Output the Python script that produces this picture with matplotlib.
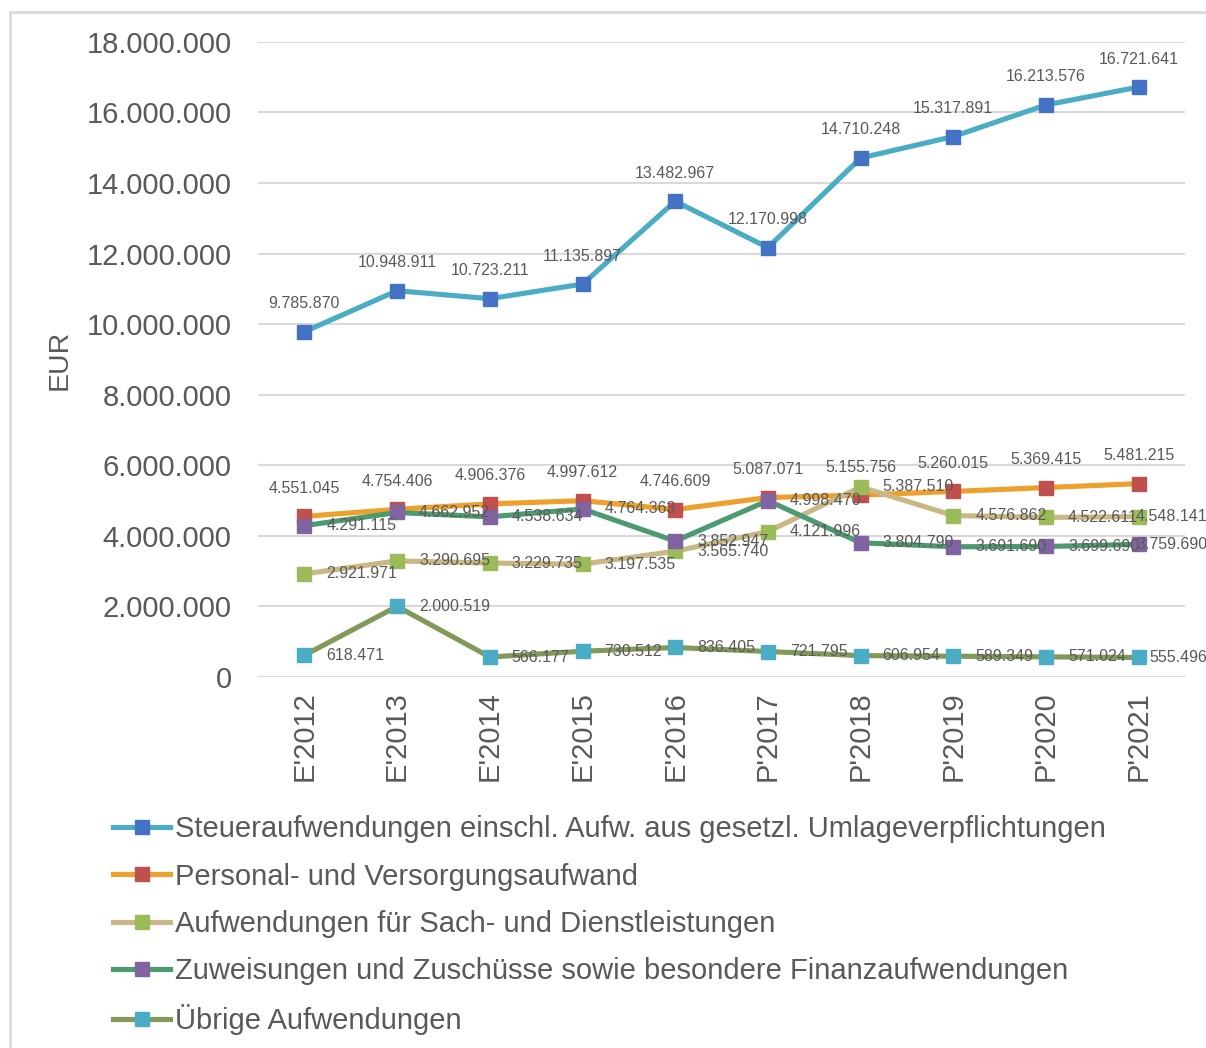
import matplotlib.pyplot as plt
from matplotlib.patches import Rectangle
from matplotlib.ticker import FuncFormatter

plt.rcParams['font.family'] = ['Liberation Sans', 'DejaVu Sans']

jahre = ["E'2012", "E'2013", "E'2014", "E'2015", "E'2016",
         "P'2017", "P'2018", "P'2019", "P'2020", "P'2021"]

steuer = [9785870, 10948911, 10723211, 11135897, 13482967,
          12170998, 14710248, 15317891, 16213576, 16721641]
personal = [4551045, 4754406, 4906376, 4997612, 4746609,
            5087071, 5155756, 5260015, 5369415, 5481215]
sach = [2921971, 3290695, 3229735, 3197535, 3565740,
        4121996, 5387510, 4576862, 4522611, 4548141]
zuweisungen = [4291115, 4662952, 4538634, 4764363, 3852947,
               4998470, 3804790, 3691690, 3699690, 3759690]
uebrige = [618471, 2000519, 566177, 730512, 836405,
           721795, 606954, 589349, 571024, 555496]

namen = ["Steueraufwendungen einschl. Aufw. aus gesetzl. Umlageverpflichtungen",
         "Personal- und Versorgungsaufwand",
         "Aufwendungen für Sach- und Dienstleistungen",
         "Zuweisungen und Zuschüsse sowie besondere Finanzaufwendungen",
         "Übrige Aufwendungen"]

# (linie, marker, label-position)
stile = [("#4BACC6", "#4472C4", "oben"),
         ("#EE9F2C", "#C0504D", "oben"),
         ("#C9B784", "#9BBB59", "rechts"),
         ("#4E9A70", "#8064A2", "rechts"),
         ("#82995A", "#4BACC6", "rechts")]

TEXT = "#595959"


def fmt(v, pos=None):
    return f"{int(v):,}".replace(",", ".")


fig = plt.figure(figsize=(12.06, 10.48), dpi=100)
ax = fig.add_axes([0.214, 0.354, 0.7686, 0.606])

x = list(range(len(jahre)))
letzter = len(jahre) - 1
for werte, name, (lc, mc, pos) in zip([steuer, personal, sach, zuweisungen, uebrige], namen, stile):
    ax.plot(x, werte, color=lc, lw=3.7, marker='s', ms=10.5,
            mfc=mc, mec=mc, label=name, solid_joinstyle='round')
    for xi, v in zip(x, werte):
        if pos == "oben":
            ax.annotate(fmt(v), (xi, v), xytext=(0, 28), textcoords='offset pixels',
                        ha='center', va='center', fontsize=11.5, color=TEXT)
        elif xi == letzter:
            # Excel schiebt die Beschriftung in den Diagrammbereich zurück
            ax.annotate(fmt(v), (xi, v), xytext=(69, 0), textcoords='offset pixels',
                        ha='right', va='center', fontsize=11.5, color=TEXT)
        else:
            ax.annotate(fmt(v), (xi, v), xytext=(22, 0), textcoords='offset pixels',
                        ha='left', va='center', fontsize=11.5, color=TEXT)

ax.set_xlim(-0.5, len(jahre) - 0.5)
ax.set_ylim(0, 18000000)
ax.set_yticks(range(0, 18000001, 2000000))
ax.yaxis.set_major_formatter(FuncFormatter(fmt))
ax.set_xticks(x)
ax.set_xticklabels(jahre, rotation=90)
ax.tick_params(axis='both', length=0, labelsize=21, colors=TEXT)
ax.tick_params(axis='y', pad=19)
ax.tick_params(axis='x', pad=10)
ax.grid(axis='y', color='#D9D9D9', lw=1.5)
ax.set_axisbelow(True)
for s in ax.spines.values():
    s.set_visible(False)
ax.set_ylabel("EUR", fontsize=20.5, color=TEXT, labelpad=10)

ax.legend(loc='upper left', bbox_to_anchor=(-0.156, -0.218), frameon=False,
          fontsize=21, labelcolor=TEXT, handlelength=1.95, handletextpad=0.15,
          labelspacing=0.66, borderaxespad=0, borderpad=0)

fig.patches.append(Rectangle((10 / 1206, -0.1), 1.2, 1 - 12 / 1048 + 0.1,
                             transform=fig.transFigure, fill=False,
                             edgecolor='#D9D9D9', lw=2))

fig.savefig("out.png", dpi=100)
